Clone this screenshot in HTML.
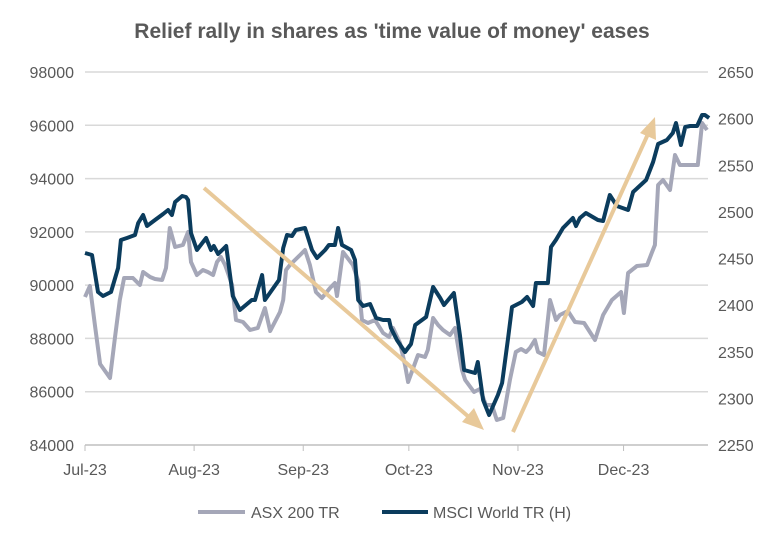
<!DOCTYPE html>
<html><head><meta charset="utf-8"><style>
body{margin:0;background:#fff;}
svg text{font-family:"Liberation Sans",sans-serif;fill:#595959;}
</style></head><body>
<svg id="chart" width="784" height="542" xmlns="http://www.w3.org/2000/svg">
<text x="392" y="38" text-anchor="middle" font-size="21" font-weight="bold">Relief rally in shares as 'time value of money' eases</text>
<g id="grid"></g>
<g id="yl"></g>
<g id="yr"></g>
<g id="xa"></g>
<g id="series"></g>
<g id="arrows">
<line x1="204" y1="188" x2="470" y2="418" stroke="#E8C99A" stroke-width="4"/>
<polygon points="484,430 462,422 474,408" fill="#E8C99A"/>
<line x1="513" y1="432" x2="648" y2="134" stroke="#E8C99A" stroke-width="4"/>
<polygon points="655,117 656,140 640,133" fill="#E8C99A"/>
</g>
<g>
<line x1="198" y1="512" x2="245" y2="512" stroke="#A5A7B8" stroke-width="4"/>
<text x="251" y="518" font-size="16">ASX 200 TR</text>
<line x1="382" y1="512" x2="428" y2="512" stroke="#0B3C5D" stroke-width="4"/>
<text x="433" y="518" font-size="16">MSCI World TR (H)</text>
</g>
</svg>
<script>
const leftTicks=[84000,86000,88000,90000,92000,94000,96000,98000];
const rightTicks=[2250,2300,2350,2400,2450,2500,2550,2600,2650];
const monthLabels=["Jul-23","Aug-23","Sep-23","Oct-23","Nov-23","Dec-23"];
const monthDays=[0,31,62,92,123,153];
const asxDays=[0,1.4,2.8,4.3,7.1,8.5,9.9,11.1,13.6,15.6,16.5,18.5,19.9,21.9,23,24.1,25.6,27.8,29.3,30.1,31.8,33.5,34.9,36.4,37.5,38.6,39.8,41.8,42.9,44.9,46.9,49.1,51.1,52.6,55.4,56.3,57.1,58.2,61.1,62.5,63.9,65.6,67.3,69.6,71,71.6,73.3,76.1,77.6,78.7,80.4,82.4,84.7,86.4,87.5,89.5,90.9,91.8,94.6,96.6,97.4,98.9,100.3,101.7,103.7,105.1,107.1,108,110.5,112.2,113.9,115.6,117,118.8,120.7,122.4,123.9,125.3,126.4,127.8,128.7,130.4,132.1,133.8,134.9,137.2,139.2,141.8,144.9,147.2,149.7,152.3,153.1,154.3,156.8,159.7,161.1,161.9,162.8,164.2,166.2,167.6,169,170.5,173.3,174.1,175.3,176.7];
const asxValues=[89556,89970,88505,87041,86516,88017,89443,90269,90269,90006,90494,90306,90231,90194,90644,92145,91432,91507,91995,90869,90381,90569,90494,90381,90869,91057,90757,90006,88693,88617,88317,88392,89143,88280,88993,89443,90569,90757,91132,91320,90757,89743,89518,89894,90081,89593,91245,90757,90156,88693,88580,88693,88205,88055,88392,87829,87004,86366,87379,87304,87567,88768,88505,88317,88130,88392,86816,86441,85990,86103,85503,85503,84940,85015,86441,87492,87604,87492,87642,87942,87492,87379,89443,88693,88880,89030,88617,88580,87942,88880,89443,89743,88955,90456,90719,90757,91245,91507,93759,93947,93572,94885,94510,94510,94510,94510,96086,95823];
const msciDays=[0,2.0,3.7,5.1,7.4,9.4,10.2,11.9,14.2,15.1,16.5,17.6,19.9,22.2,23.6,24.7,25.6,27.6,28.7,29.3,30.1,31.8,34.4,35.8,36.6,37.8,40.1,42,44,47.4,48.3,50.3,51.1,55.1,56.3,57.4,58.8,59.9,62.5,64.5,65.9,68.2,69.3,71,71.9,73,75.6,76.7,77.6,79,81,82.7,84.7,86.4,86.9,88.6,90.9,92.6,93.8,96.9,98.9,100.9,102,104.8,106.5,107.7,110.8,111.6,113.1,114.8,117.3,118.5,120.2,121.3,124.1,125.6,127.3,128.1,131.5,132.4,133.8,135.8,138.6,139.5,140.6,142.3,145.7,147.2,149.1,151.1,154.3,155.7,159.4,161.4,162.8,165.3,167,167.9,169.3,170.5,171.9,173.9,175.3,176.1,177.3];
const msciValues=[2455.9,2453.8,2414.1,2409.8,2414.1,2439.8,2469.8,2472,2475.2,2488.1,2496.6,2484.9,2491.3,2497.7,2502,2496.6,2510.6,2517,2516,2512.7,2477.3,2459.1,2472,2459.1,2463.4,2454.8,2463.4,2409.8,2394.8,2405.5,2405.5,2432.3,2405.5,2426.9,2461.3,2475.2,2474.1,2480.6,2482.7,2459.1,2450.5,2459.1,2464.5,2464.5,2482.7,2464.5,2459.1,2448.4,2405.5,2399.1,2401.2,2386.2,2384,2384,2375.5,2362.6,2349.7,2358.3,2378.7,2387.3,2419.4,2407.6,2400.1,2413,2368,2330.4,2327.2,2339,2298.3,2282.2,2303.6,2316.5,2364.7,2398,2403.3,2408.7,2399.1,2423.7,2423.7,2462.3,2470,2482.7,2493.4,2484.9,2493.4,2498.8,2491.3,2490.2,2518.1,2506.3,2502,2521.3,2534.2,2553.5,2572.8,2577.1,2584.6,2595.3,2571.7,2591,2592.1,2592.1,2603.9,2603.9,2600.7];

const X0=85,X1=708,YT=72,YB=445;
const x=d=>X0+d*3.52;
const yL=v=>YB-(v-84000)/14000*(YB-YT);
const yR=v=>YB-(v-2250)/400*(YB-YT);
const NS="http://www.w3.org/2000/svg";
function mk(tag,parent){const e=document.createElementNS(NS,tag);parent.appendChild(e);return e;}
const grid=document.getElementById('grid'),yl=document.getElementById('yl'),yr=document.getElementById('yr'),xa=document.getElementById('xa'),ser=document.getElementById('series');
leftTicks.forEach(v=>{
  if(v>84000){const g=mk('line',grid);
  
  
  g.setAttribute('x1',X0);g.setAttribute('x2',X1);g.setAttribute('y1',yL(v));g.setAttribute('y2',yL(v));g.setAttribute('stroke','#D9D9D9');g.setAttribute('stroke-width','1.5');}
  const t=mk('text',yl);
  
  
  t.setAttribute('x',74);t.setAttribute('y',yL(v)+6);t.setAttribute('text-anchor','end');t.setAttribute('font-size','16');t.textContent=v;
});
rightTicks.forEach(v=>{
  const t=mk('text',yr);
  
  
  t.setAttribute('x',718);t.setAttribute('y',yR(v)+6);t.setAttribute('font-size','16');t.textContent=v;
});
const ax=mk('line',xa);


ax.setAttribute('x1',X0);ax.setAttribute('x2',X1);ax.setAttribute('y1',YB);ax.setAttribute('y2',YB);ax.setAttribute('stroke','#BFBFBF');ax.setAttribute('stroke-width','1.5');
monthLabels.forEach((m,i)=>{
  const tk=mk('line',xa);
  
  
  tk.setAttribute('x1',x(monthDays[i]));tk.setAttribute('x2',x(monthDays[i]));tk.setAttribute('y1',YB);tk.setAttribute('y2',YB+6);tk.setAttribute('stroke','#BFBFBF');
  const t=mk('text',xa);
  
  
  t.setAttribute('x',x(monthDays[i]));t.setAttribute('y',475);t.setAttribute('text-anchor','middle');t.setAttribute('font-size','16');t.textContent=m;
});
function line(days,vals,fy,color,name){
  const p=mk('path',ser);
  
  
  p.setAttribute('d',days.map((d,i)=>(i?'L':'M')+x(d).toFixed(1)+' '+fy(vals[i]).toFixed(1)).join(''));
  p.setAttribute('fill','none');p.setAttribute('stroke',color);p.setAttribute('stroke-width','4');p.setAttribute('stroke-linejoin','round');
}
line(asxDays,asxValues,yL,'#A5A7B8','asx-200-line');
line(msciDays,msciValues,yR,'#0B3C5D','msci-world-line');
</script>
</body></html>
